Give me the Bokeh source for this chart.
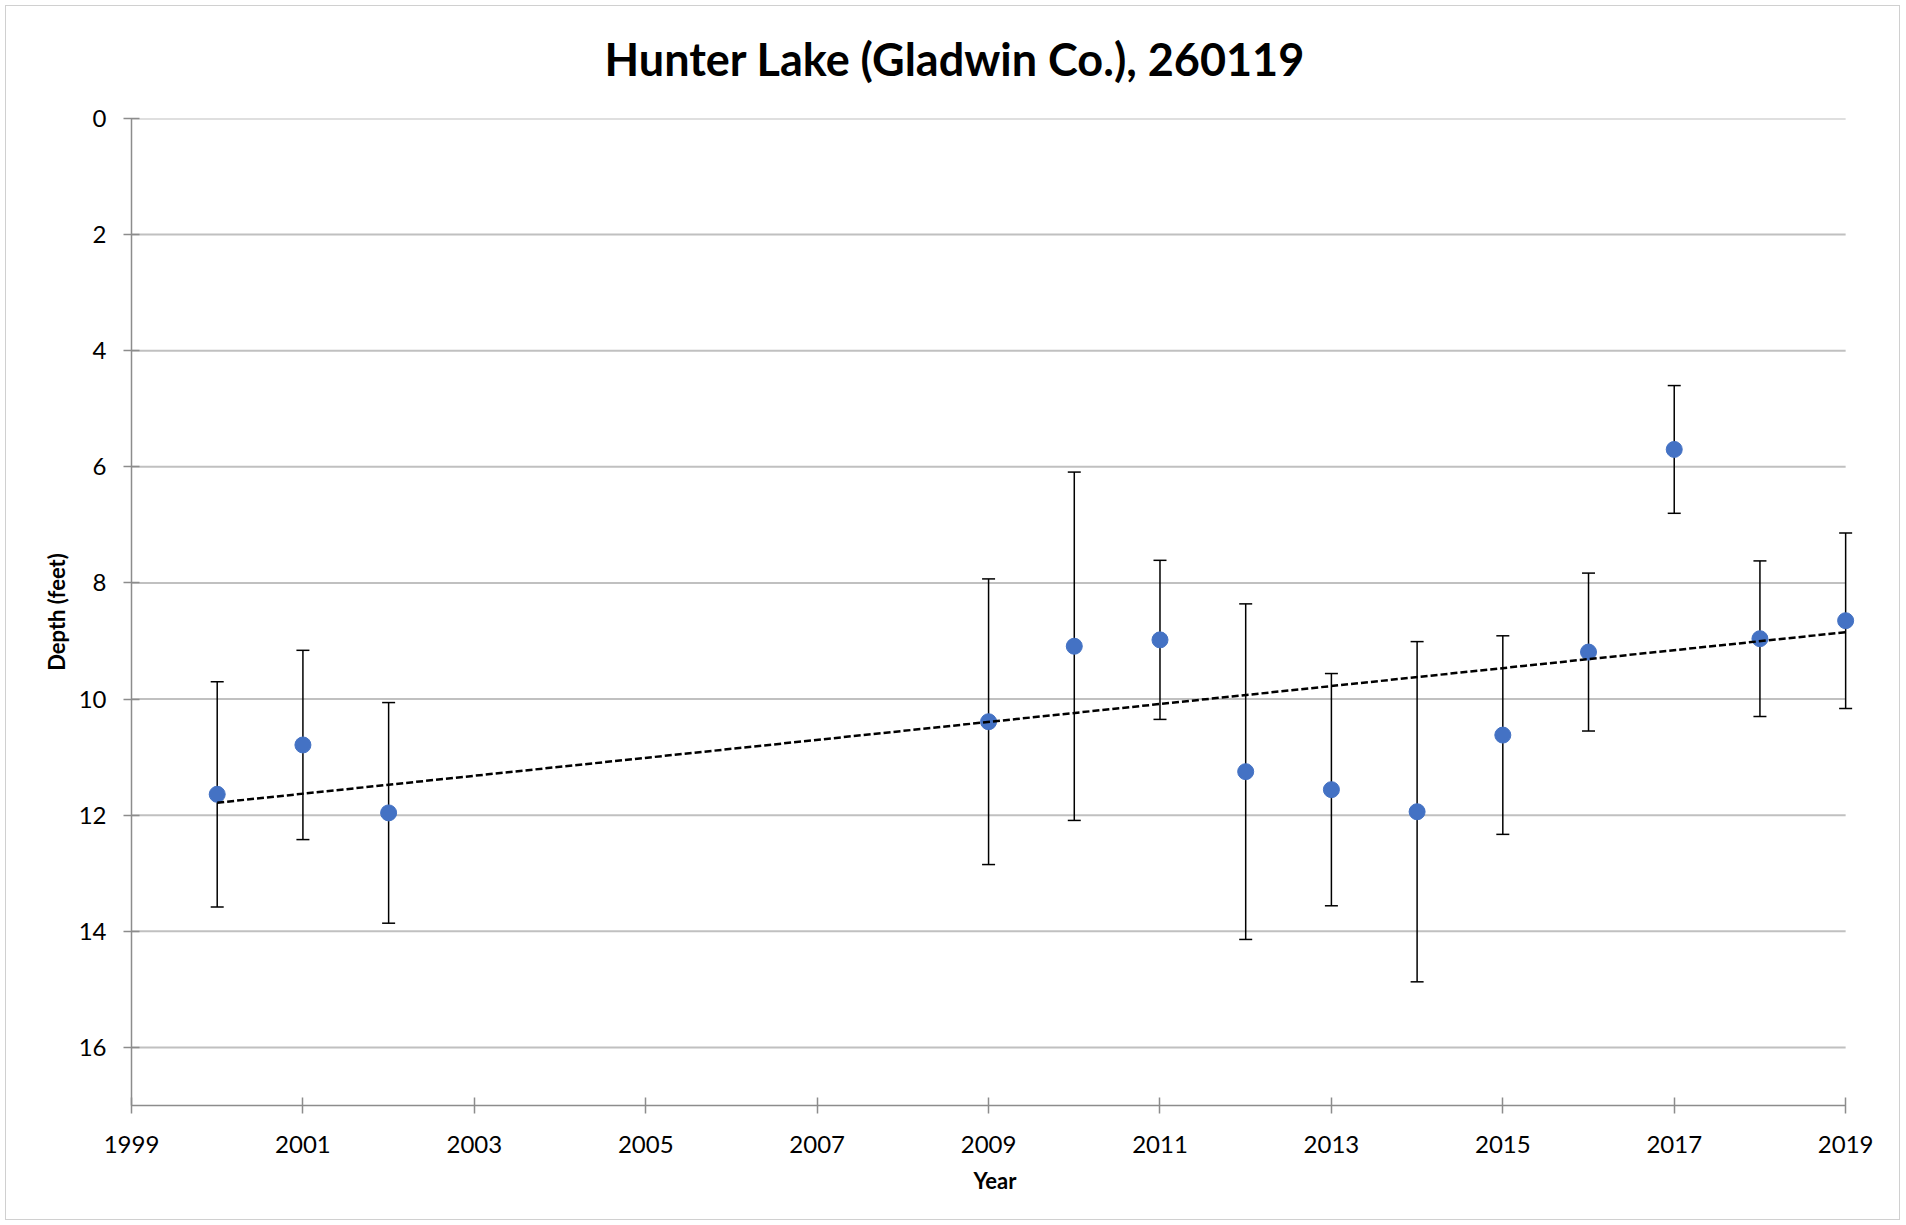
import numpy as np
from bokeh.plotting import figure
from bokeh.models import ColumnDataSource, Whisker, TeeHead, Range1d, FixedTicker, Title
from bokeh.embed import file_html
from bokeh.resources import INLINE

# ---- data ----
years = [2000, 2001, 2002, 2009, 2010, 2011, 2012, 2013, 2014, 2015, 2016, 2017, 2018, 2019]
depth_mean = [11.64, 10.79, 11.96, 10.39, 9.09, 8.98, 11.25, 11.56, 11.94, 10.62, 9.19, 5.70, 8.96, 8.65]
depth_sd = [1.94, 1.63, 1.90, 2.46, 3.00, 1.37, 2.89, 2.00, 2.93, 1.71, 1.36, 1.10, 1.34, 1.51]
x_ticks = [1999, 2001, 2003, 2005, 2007, 2009, 2011, 2013, 2015, 2017, 2019]
y_ticks = [0, 2, 4, 6, 8, 10, 12, 14, 16]
title_text = "Hunter Lake (Gladwin Co.), 260119"

FONT = "Lato"
X_MIN, X_MAX, X_PAD = 1999, 2019, 0.15

yrs = np.array(years, dtype=float)
mean = np.array(depth_mean)
sd = np.array(depth_sd)
src = ColumnDataSource(dict(x=yrs, y=mean, upper=mean + sd, lower=mean - sd))

# linear trend line (least squares on the means)
slope, intercept = np.polyfit(yrs, mean, 1)
tx = np.array([yrs.min(), yrs.max()])
trend = ColumnDataSource(dict(x=tx, y=slope * tx + intercept))

# horizontal gridlines, drawn only across the axis span
grid = ColumnDataSource(dict(x0=[X_MIN] * len(y_ticks), x1=[X_MAX] * len(y_ticks), y=y_ticks))

p = figure(width=1895, height=1215, output_backend="svg", toolbar_location=None,
           x_range=Range1d(X_MIN, X_MAX + X_PAD), y_range=Range1d(17, 0),
           min_border_left=125, min_border_right=43, min_border_top=112, min_border_bottom=116)
p.styles = {"border": "1px solid #d0d0d0", "margin-left": "5px", "margin-top": "5px"}
p.outline_line_color = None
p.background_fill_color = "white"
p.border_fill_color = "white"

# title (outermost) + thin spacer between title and frame
p.title.text = title_text
p.title.text_font = FONT
p.title.text_font_style = "bold"
p.title.text_font_size = "45px"
p.title.text_color = "black"
p.title.align = "left"
p.title.offset = 473
p.title.vertical_align = "top"
p.title.standoff = 44
p.add_layout(Title(text=" ", text_font_size="1px", standoff=6), "above")

# grid
p.xgrid.grid_line_color = None
p.ygrid.grid_line_color = None
p.segment(x0="x0", x1="x1", y0="y", y1="y", source=grid, line_color="#c0c0c0",
          line_width=2, level="underlay")

# axes
for ax in (p.xaxis, p.yaxis):
    ax.axis_line_color = "#8c8c8c"
    ax.axis_line_width = 1.5
    ax.major_tick_line_color = "#8c8c8c"
    ax.major_tick_line_width = 1.5
    ax.major_tick_in = 8
    ax.major_tick_out = 8
    ax.minor_tick_line_color = None
    ax.major_label_text_font = FONT
    ax.major_label_text_font_size = "24px"
    ax.major_label_text_color = "black"
    ax.axis_label_text_font = FONT
    ax.axis_label_text_font_style = "bold"
    ax.axis_label_text_font_size = "22px"
    ax.axis_label_text_color = "black"

p.xaxis.bounds = (X_MIN, X_MAX)
p.xaxis.ticker = FixedTicker(ticks=x_ticks)
p.yaxis.ticker = FixedTicker(ticks=y_ticks)
p.xaxis.major_label_standoff = 22
p.yaxis.major_label_standoff = 17
p.xaxis.axis_label = "Year"
p.yaxis.axis_label = "Depth (feet)"
p.xaxis.axis_label_standoff = 11
p.yaxis.axis_label_standoff = 6

# error bars
wh = Whisker(source=src, base="x", upper="upper", lower="lower", dimension="height",
             line_color="black", line_width=1.5,
             upper_head=TeeHead(size=13, line_color="black", line_width=1.5),
             lower_head=TeeHead(size=13, line_color="black", line_width=1.5))
p.add_layout(wh)

# points
p.scatter("x", "y", source=src, size=16, fill_color="#4472C4", line_color="#4472C4")

# trend line
p.line("x", "y", source=trend, line_color="black", line_width=2.5, line_dash="7 3")

open("out.html", "w").write(file_html(p, INLINE))
